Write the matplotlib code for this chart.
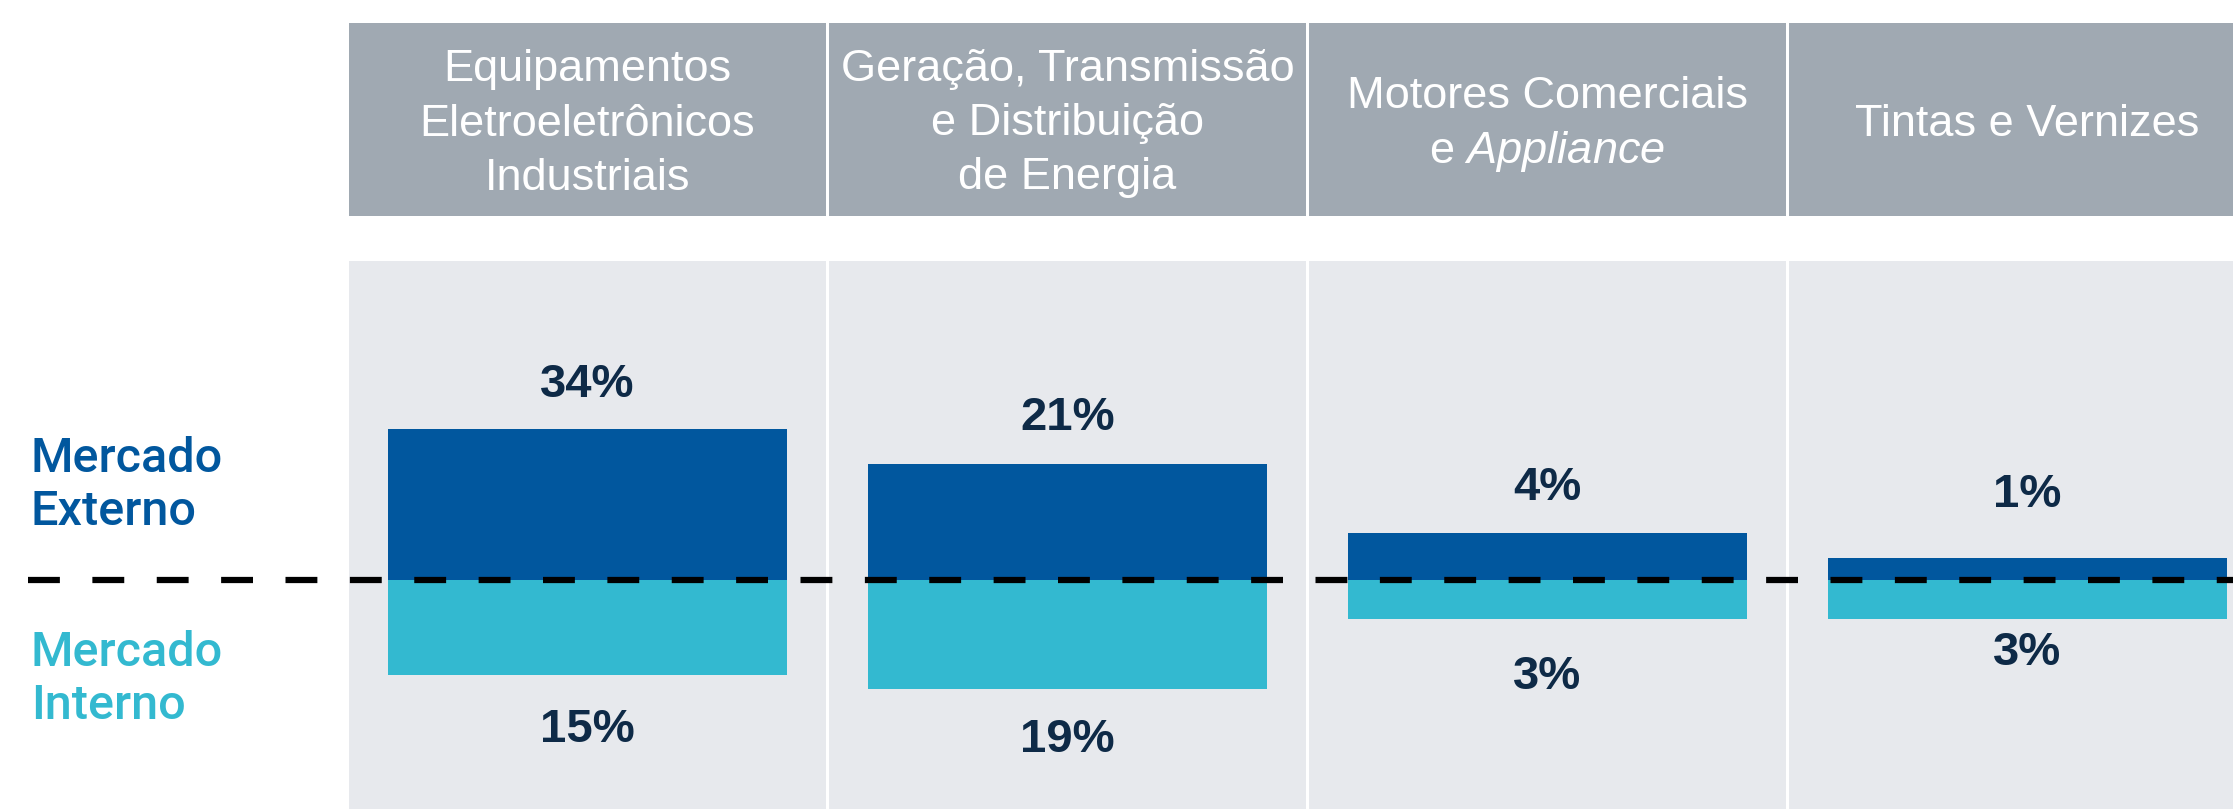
#!/usr/bin/env python3
"""
Receita por área de negócio - mercado externo x mercado interno
"""
import numpy as np
import matplotlib
matplotlib.use('Agg')
import matplotlib.pyplot as plt

# ─── dados ──────────────────────────────────────────────────────────────────

areas = [
    'Equipamentos\nEletroeletrônicos\nIndustriais',
    'Geração, Transmissão\ne Distribuição\nde Energia',
    'Motores Comerciais\ne $\\mathit{Appliance}$',
    'Tintas e Vernizes',
]
mercado_externo = [34, 21, 4, 1]
mercado_interno = [15, 19, 3, 3]

# ─── estilo ─────────────────────────────────────────────────────────────────

W, H, DPI = 2233, 809, 100
AZUL = '#01579E'
CIANO = '#33B9D0'
NAVY = '#0E2A47'
CINZA_CAB = '#A0A9B2'
CINZA_FUNDO = '#E7E9ED'

# geometria em pixels (a partir do topo)
CAB_TOPO, CAB_BASE = 23, 216
CORPO_TOPO = 261
ZERO_PX = 579.7
COL_PX = 480          # largura de cada coluna
COL0_PX = 587.5       # centro da primeira coluna
MEIA = 0.496          # meia largura do painel (deixa o filete branco)
LARG_BARRA = 0.833

# escala vertical (as barras da figura original não são lineares)
POT = 0.55
PX_UNID = 21.6

# deslocamento dos rótulos (px) acima / abaixo de cada barra
desloc_cima = [49.5, 51, 50, 68]
desloc_baixo = [49.5, 46.5, 52.5, 29]

plt.rcParams.update({
    'font.family': ['Liberation Sans', 'DejaVu Sans'],
    'mathtext.fontset': 'custom',
    'mathtext.rm': 'Liberation Sans',
    'mathtext.it': 'Liberation Sans:italic',
})


def fwd(v):
    v = np.asarray(v, dtype=float)
    return np.sign(v) * np.abs(v) ** POT


def inv(u):
    u = np.asarray(u, dtype=float)
    return np.sign(u) * np.abs(u) ** (1 / POT)


def xlims():
    return (-COL0_PX / COL_PX, (W - COL0_PX) / COL_PX)


def desenha_cabecalho(fig):
    ax = fig.add_axes([0, 1 - CAB_BASE / H, 1, (CAB_BASE - CAB_TOPO) / H])
    ax.set_xlim(*xlims())
    ax.set_ylim(CAB_BASE, CAB_TOPO)
    ax.axis('off')
    centro = (CAB_TOPO + CAB_BASE) / 2
    for i, nome in enumerate(areas):
        ax.axvspan(i - MEIA, i + MEIA, color=CINZA_CAB, lw=0)
        linhas = nome.split('\n')
        n = len(linhas)
        for j, linha in enumerate(linhas):
            yc = centro + (j - (n - 1) / 2) * 54
            ax.text(i, yc + 16, linha, ha='center', va='baseline',
                    color='white', fontsize=32.5)


def desenha_corpo(fig):
    ax = fig.add_axes([0, 0, 1, 1 - CORPO_TOPO / H])
    ax.set_yscale('function', functions=(fwd, inv))
    ax.set_xlim(*xlims())
    ax.set_ylim(float(inv(-(H - ZERO_PX) / PX_UNID)),
                float(inv((ZERO_PX - CORPO_TOPO) / PX_UNID)))
    ax.axis('off')

    x = np.arange(len(areas))
    for i in x:
        ax.axvspan(i - MEIA, i + MEIA, color=CINZA_FUNDO, lw=0, zorder=0)

    ax.bar(x, mercado_externo, width=LARG_BARRA, color=AZUL, lw=0, zorder=2)
    ax.bar(x, [-v for v in mercado_interno], width=LARG_BARRA, color=CIANO,
           lw=0, zorder=2)

    ax.axhline(0, xmin=28 / W, xmax=1, color='black', lw=4.5,
               ls=(0, (5.1, 5.2)), zorder=5)

    for i, v in enumerate(mercado_externo):
        ax.annotate(f'{v}%', (i, v), xytext=(0, desloc_cima[i] * 0.72),
                    textcoords='offset points', ha='center',
                    va='center_baseline', fontsize=34, fontweight='bold',
                    color=NAVY)
    for i, v in enumerate(mercado_interno):
        ax.annotate(f'{v}%', (i, -v), xytext=(0, -desloc_baixo[i] * 0.72),
                    textcoords='offset points', ha='center',
                    va='center_baseline', fontsize=34, fontweight='bold',
                    color=NAVY)


def desenha_legenda(fig):
    rot = [('Mercado', 471.7, AZUL), ('Externo', 525, AZUL),
           ('Mercado', 666, CIANO), ('Interno', 719.3, CIANO)]
    for txt, y, cor in rot:
        fig.text(30.7 / W, 1 - y / H, txt, ha='left', va='baseline',
                 color=cor, fontsize=35, fontweight='medium',
                 family=['Roboto', 'Liberation Sans'])


def main():
    fig = plt.figure(figsize=(W / DPI, H / DPI), dpi=DPI)
    fig.patch.set_facecolor('white')
    desenha_corpo(fig)
    desenha_cabecalho(fig)
    desenha_legenda(fig)
    fig.savefig('out.png', dpi=DPI)
    plt.close(fig)


if __name__ == '__main__':
    main()
